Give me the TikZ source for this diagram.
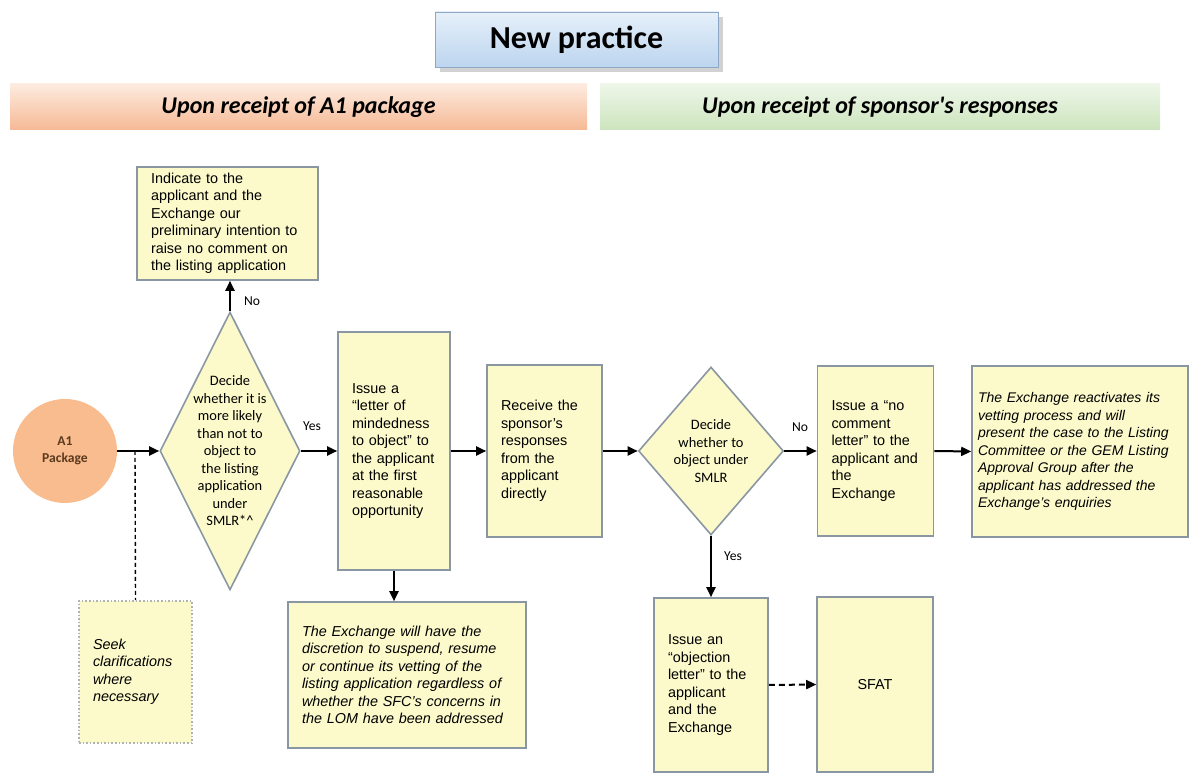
\documentclass[tikz,border=0pt]{standalone}
\usepackage{fontspec}
\setmainfont{Liberation Sans}
\newfontfamily\calibrifont{Carlito}
\usepackage{tikz}
\usetikzlibrary{arrows.meta,shapes.geometric,shadows}

\definecolor{boxfill}{HTML}{FCFACB}
\definecolor{boxline}{HTML}{8A97A3}
\definecolor{startfill}{HTML}{F9BC8E}
\definecolor{starttext}{HTML}{5C3A1E}
\definecolor{titletop}{HTML}{E6F0FA}
\definecolor{titlebot}{HTML}{BCD5EE}
\definecolor{titleline}{HTML}{8EA7C4}
\definecolor{orangetop}{HTML}{FDEBE0}
\definecolor{orangebot}{HTML}{F6B995}
\definecolor{greentop}{HTML}{EEF6E9}
\definecolor{greenbot}{HTML}{CCE5BD}

\begin{document}
\begin{tikzpicture}[x=0.5pt, y=-0.5pt,
  procbox/.style={draw=boxline, fill=boxfill, line width=0.8pt, inner xsep=7pt, inner ysep=0pt,
    align=left, font=\fontsize{7.2}{8.75}\selectfont},
  notebox/.style={procbox, font=\itshape\fontsize{7.2}{8.75}\selectfont},
  decision/.style={diamond, draw=boxline, fill=boxfill, line width=0.8pt, inner sep=0pt},
  dtext/.style={align=center, font=\calibrifont\fontsize{7.2}{8.75}\selectfont},
  startnode/.style={circle, fill=startfill, minimum size=52pt, inner sep=0pt, align=center,
    text=starttext, font=\calibrifont\bfseries\fontsize{6.8}{8.5}\selectfont},
  titlebox/.style={draw=titleline, top color=titletop, bottom color=titlebot,
    drop shadow={shadow xshift=2.5pt, shadow yshift=-2.5pt, fill=black!35},
    font=\calibrifont\bfseries\fontsize{16}{18}\selectfont},
  band/.style={minimum height=23pt, font=\calibrifont\bfseries\itshape\fontsize{12}{14}\selectfont},
  arr/.style={-{Triangle[length=5pt,width=4.5pt]}, line width=1pt},
  lbl/.style={font=\calibrifont\fontsize{6.8}{8}\selectfont}
]
\useasboundingbox (0,0) rectangle (1190,774);

% headings
\node[titlebox, minimum width=141.5pt, minimum height=27.5pt] (title) at (576.5,39.5) {New practice};
\node[band, top color=orangetop, bottom color=orangebot, minimum width=288.5pt] (bandA) at (298.5,107) {Upon receipt of A1 package};
\node[band, top color=greentop, bottom color=greenbot, minimum width=280pt] (bandB) at (880,107) {Upon receipt of sponsor's responses};

% first stage
\node[startnode] (a1) at (65,451) {A1\\Package};
\node[decision, minimum width=70pt, minimum height=139pt] (d1) at (230,451) {};
\node[dtext] at (d1) {Decide\\whether it is\\more likely\\than not to\\object to\\the listing\\application\\under\\SMLR*\^{}};
\node[procbox, text width=76.5pt, minimum height=56.5pt] (nocomm) at (227.5,223.5)
  {Indicate to the\\applicant and the\\Exchange our\\preliminary intention to\\raise no comment on\\the listing application};
\node[procbox, text width=42pt, minimum height=119pt] (lom) at (394,451)
  {Issue a\\``letter of\\mindedness\\to object'' to\\the applicant\\at the first\\reasonable\\opportunity};
\node[notebox, text width=42.5pt, minimum height=71pt, draw=black!30, densely dotted] (seek) at (135.5,672)
  {Seek\\clarifications\\where\\necessary};
\node[notebox, text width=105pt, minimum height=73pt] (exch) at (407,675)
  {The Exchange will have the\\discretion to suspend, resume\\or continue its vetting of the\\listing application regardless of\\whether the SFC's concerns in\\the LOM have been addressed};
\coordinate (tap) at (135,451);

% second stage
\node[procbox, text width=43.5pt, minimum height=86pt] (receive) at (544.5,451)
  {Receive the\\sponsor's\\responses\\from the\\applicant\\directly};
\node[decision, minimum width=72.5pt, minimum height=84pt] (d2) at (711,451) {};
\node[dtext] at (d2) {Decide\\whether to\\object under\\SMLR};
\node[procbox, text width=44pt, minimum height=85pt] (nocom) at (875.5,451)
  {Issue a ``no\\comment\\letter'' to the\\applicant and\\the\\Exchange};
\node[notebox, inner xsep=3pt, text width=102pt, minimum height=85.5pt,
  font=\itshape\fontsize{7}{8.75}\selectfont] (react) at (1080,451.5)
  {The Exchange reactivates its\\vetting process and will\\present the case to the Listing\\Committee or the GEM Listing\\Approval Group after the\\applicant has addressed the\\Exchange's enquiries};
\node[procbox, text width=43pt, minimum height=87pt] (objlet) at (711,685)
  {Issue an\\``objection\\letter'' to the\\applicant\\and the\\Exchange};
\node[procbox, align=center, text width=44pt, minimum height=87.5pt] (sfat) at (875,684.5) {SFAT};

% connectors
\draw[arr] (a1.east) -- (d1.west);
\draw[line width=0.7pt, dash pattern=on 2pt off 1.5pt] (tap) -- (seek.north);
\draw[arr] (d1.north) -- (d1.north |- nocomm.south);
\node[lbl] (no1) at (252,301) {No};
\draw[arr] (d1.east) -- (lom.west);
\node[lbl] (yes1) at (312,426) {Yes};
\draw[arr] (lom.south) -- (lom.south |- exch.north);
\draw[arr] (lom.east) -- (receive.west);
\draw[arr] (receive.east) -- (d2.west);
\draw[arr] (d2.east) -- (nocom.west);
\node[lbl] (no2) at (800,427) {No};
\draw[arr] (nocom.east) -- (react.west);
\draw[arr] (d2.south) -- (d2.south |- objlet.north);
\node[lbl] (yes2) at (733,556) {Yes};
\draw[arr, dash pattern=on 3pt off 2pt] (objlet.east) -- (sfat.west);
\end{tikzpicture}
\end{document}
